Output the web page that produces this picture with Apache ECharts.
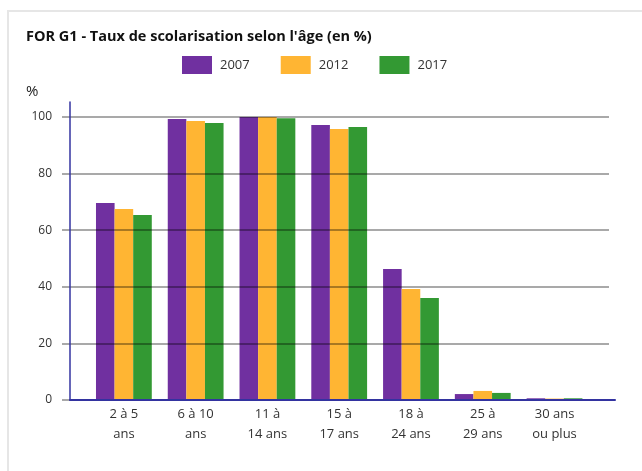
<!DOCTYPE html>
<html>
<head>
<meta charset="utf-8">
<script src="https://cdn.jsdelivr.net/npm/echarts@6/dist/echarts.min.js"></script>
<style>
  html, body { margin: 0; padding: 0; background: #fff; }
  #chart { width: 642px; height: 471px; }
</style>
</head>
<body>
<div id="chart"></div>
<script>
var categories = ['2 à 5\nans', '6 à 10\nans', '11 à\n14 ans', '15 à\n17 ans', '18 à\n24 ans', '25 à\n29 ans', '30 ans\nou plus'];
var years = ['2007', '2012', '2017'];
var values2007 = [69.6, 99.3, 100, 97.2, 46.3, 2.1, 0.6];
var values2012 = [67.5, 98.6, 100, 95.8, 39.2, 3.2, 0.5];
var values2017 = [65.4, 97.9, 99.6, 96.5, 36.0, 2.5, 0.6];
var colors = ['#7030a0', '#ffb533', '#339933'];

var font = '"Open Sans", "Noto Sans", sans-serif';
var myChart = echarts.init(document.getElementById('chart'));

var option = {
    animation: false,
    textStyle: { fontFamily: font },
    graphic: [
        { type: 'rect', shape: { x: 7, y: 10, width: 2, height: 461 }, style: { fill: '#e6e6e6' } },
        { type: 'rect', shape: { x: 7, y: 10, width: 635, height: 2 }, style: { fill: '#e6e6e6' } },
        { type: 'text', left: 26, top: 84, style: { text: '%', font: '15px ' + font, fill: '#222' } }
    ],
    title: {
        text: "FOR G1 - Taux de scolarisation selon l'âge (en %)",
        left: 21, top: 24,
        textStyle: { fontSize: 14.5, fontWeight: 'bold', color: '#111', fontFamily: font }
    },
    legend: {
        data: years,
        left: 177, top: 51,
        itemWidth: 30, itemHeight: 18, itemGap: 31,
        icon: 'rect',
        textStyle: { fontSize: 13, color: '#333', padding: [0, 0, 0, 3] }
    },
    grid: [
        { left: 70, right: 27, top: 102, bottom: 71 },
        { left: 70, right: 33, top: 117, bottom: 71 },
        { left: 88, right: 51.6, top: 117, bottom: 71 }
    ],
    xAxis: [
        {
            gridIndex: 0, type: 'category', data: [''],
            axisLine: { lineStyle: { color: '#3333a0', width: 2 } },
            axisTick: { show: false }, axisLabel: { show: false }, z: 4
        },
        {
            gridIndex: 1, type: 'category', data: [''],
            axisLine: { show: false }, axisTick: { show: false }, axisLabel: { show: false }
        },
        {
            gridIndex: 2, type: 'category', data: categories,
            axisLine: { show: false }, axisTick: { show: false },
            axisLabel: { fontSize: 13, color: '#333', lineHeight: 20, margin: 4, interval: 0 }
        }
    ],
    yAxis: [
        {
            gridIndex: 0, type: 'value', min: 0, max: 105,
            axisLine: { show: true, lineStyle: { color: '#3333a0', width: 1.5 } },
            axisTick: { show: false }, axisLabel: { show: false }, splitLine: { show: false }, z: 4
        },
        {
            gridIndex: 1, type: 'value', min: 0, max: 100, interval: 20,
            axisLine: { show: false },
            axisTick: { show: true, length: 8, lineStyle: { color: 'rgba(0,0,0,0.45)', width: 1.5 } },
            axisLabel: { fontSize: 12, color: '#333', margin: 18 },
            splitLine: { lineStyle: { color: 'rgba(0,0,0,0.45)', width: 1.5 } },
            z: 3
        },
        {
            gridIndex: 2, type: 'value', min: 0, max: 100,
            axisLine: { show: false }, axisTick: { show: false },
            axisLabel: { show: false }, splitLine: { show: false }
        }
    ],
    series: [
        { name: years[0], type: 'bar', xAxisIndex: 2, yAxisIndex: 2, data: values2007, barWidth: 18.6, barGap: '0%', itemStyle: { color: colors[0] } },
        { name: years[1], type: 'bar', xAxisIndex: 2, yAxisIndex: 2, data: values2012, barWidth: 18.6, barGap: '0%', itemStyle: { color: colors[1] } },
        { name: years[2], type: 'bar', xAxisIndex: 2, yAxisIndex: 2, data: values2017, barWidth: 18.6, barGap: '0%', itemStyle: { color: colors[2] } }
    ]
};
myChart.setOption(option);
</script>
</body>
</html>
